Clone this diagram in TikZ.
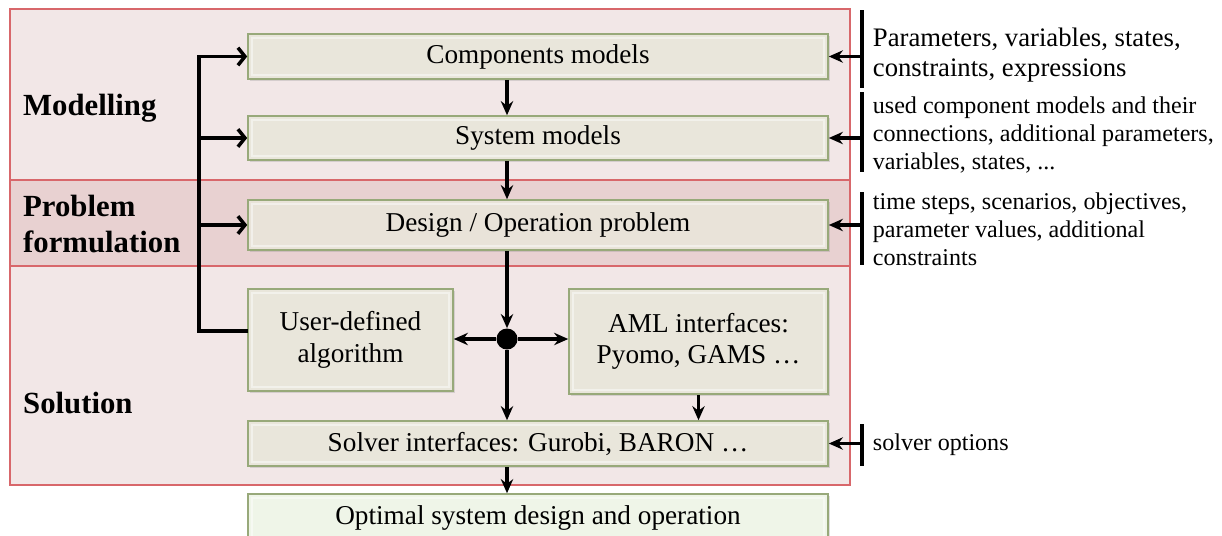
\documentclass[tikz,border=0pt]{standalone}
\usepackage{fontspec}
\setmainfont{Liberation Serif}
\usetikzlibrary{arrows.meta}
\usetikzlibrary{shadows}
\usetikzlibrary{positioning}

\definecolor{bandpink}{HTML}{F2E7E7}
\definecolor{bandrose}{HTML}{E8D1D1}
\definecolor{bandline}{HTML}{D8676B}
\definecolor{boxfill}{HTML}{E9E6DB}
\definecolor{boxline}{HTML}{98A97A}
\definecolor{outfill}{HTML}{EFF5E8}
\newcommand{\pxl}{0.02cm}

\begin{document}
\begin{tikzpicture}[
    x=0.02cm, y=-0.02cm,
    font=\fontsize{15.5}{18}\selectfont
]
\tikzset{
    band/.style = {draw=bandline, line width=0.8pt},
    phase/.style = {anchor=west, align=left, font=\fontsize{17.5}{20}\selectfont\bfseries},
    block/.style = {draw=boxline, line width=0.9pt, fill=boxfill, align=center,
                    drop shadow={opacity=0.25, shadow xshift=1pt, shadow yshift=-1pt},
                    path picture={\draw[white, opacity=0.45, line width=1.1pt]
                        ([shift={(2.5pt,-2.5pt)}]path picture bounding box.north west) rectangle
                        ([shift={(-2.5pt,2.5pt)}]path picture bounding box.south east);}},
    info/.style = {anchor=west, align=left, inner xsep=6pt, font=\fontsize{13.7}{15.9}\selectfont},
    flow/.style = {-{Stealth[length=8pt,width=7pt]}, line width=2pt},
    feed/.style = {-{Straight Barb[length=4pt,width=10pt]}, line width=2pt},
    bar/.style = {line width=2.6pt}
}
\useasboundingbox (0,0) rectangle (1222,535);

% phases
\fill[bandpink] (10,9) rectangle (850,485);
\fill[bandrose] (10,180) rectangle (850,266);
\draw[band] (10,180) -- (850,180);
\draw[band] (10,266) -- (850,266);
\draw[band] (10,9) rectangle (850,485);
\node[phase] (modl) at (17,108) {Modelling};
\node[phase] (form) at (17,224) {Problem\\formulation};
\node[phase] (solu) at (17,403) {Solution};

% blocks
\node[block, minimum width=580*\pxl, minimum height=45*\pxl] at (538,56.5) (comp) {Components models};
\node[block, minimum width=580*\pxl, minimum height=44*\pxl] at (538,138) (sys) {System models};
\node[block, minimum width=580*\pxl, minimum height=50*\pxl, fill=boxfill!85!bandrose] at (538,225) (prob) {Design / Operation problem};
\node[block, minimum width=205*\pxl, minimum height=102*\pxl] at (350.5,340) (alg) {User-defined\\algorithm};
\node[block, minimum width=259*\pxl, minimum height=105*\pxl] at (698.5,341.5) (aml) {AML interfaces:\\Pyomo, GAMS \dots};
\node[block, minimum width=580*\pxl, minimum height=45*\pxl] at (538,443.5) (solver) {Solver interfaces: Gurobi, BARON \dots};
\node[block, minimum width=580*\pxl, minimum height=48*\pxl, fill=outfill] at (538,518) (opt) {Optimal system design and operation};
\node[circle, fill=black, inner sep=0, minimum size=21*\pxl] at (507,339) (dot) {};

% main flow
\draw[flow] (comp.south -| dot) -- (sys.north -| dot);
\draw[flow] (sys.south -| dot) -- (prob.north -| dot);
\draw[flow] (prob.south -| dot) -- (dot.north);
\draw[flow] (dot) -- (dot -| alg.east);
\draw[flow] (dot) -- (dot -| aml.west);
\draw[flow] (dot.south) -- (solver.north -| dot);
\draw[flow] (aml.south) -- (aml.south |- solver.north);
\draw[flow] (solver.south -| dot) -- (opt.north -| dot);

% feedback from the algorithm
\coordinate (algout) at (248,331);
\coordinate (bus) at (199,331);
\draw[feed] (algout) -- (bus) |- (comp.west);
\draw[feed] (bus |- sys.west) -- (sys.west);
\draw[feed] (bus |- prob.west) -- (prob.west);

% inputs
\node[info, font=\fontsize{15.2}{17}\selectfont] at (862,55) (t1) {Parameters, variables, states,\\constraints, expressions};
\node[info] at (862,135) (t2) {used component models and their\\connections, additional parameters,\\variables, states, ...};
\node[info] at (862,229) (t3) {time steps, scenarios, objectives,\\parameter values, additional\\constraints};
\node[info] at (862,445) (t4) {solver options};
\foreach \t/\b/\ya/\yb in {t1/comp/10/88, t2/sys/92/172, t3/prob/192/265, t4/solver/424/466} {
    \draw[bar] (862,\ya) -- (862,\yb);
    \draw[flow] (\t.west |- \b.east) -- (\b.east);
}
\end{tikzpicture}
\end{document}
